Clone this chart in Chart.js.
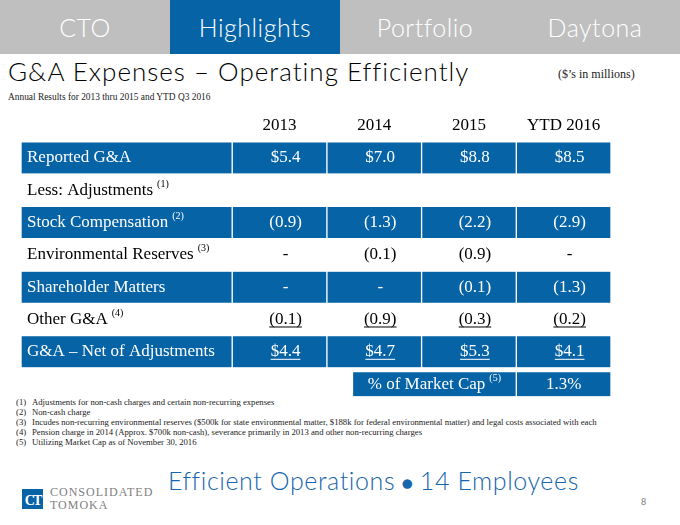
<!DOCTYPE html>
<html>
<head>
<meta charset="utf-8">
<script src="https://cdn.jsdelivr.net/npm/chart.js@4.4.1/dist/chart.umd.min.js"></script>
<style>
  body { margin: 0; background: #fff; }
  #page { position: relative; width: 680px; height: 525px; overflow: hidden; background: #fff; }
  .abs { position: absolute; white-space: nowrap; }
  #tabs { position: absolute; left: 0; top: 0; width: 680px; height: 54px; background: #bfbfbf; display: flex; }
  #tabs div { width: 171px; text-align: center; color: #fff; font: 300 25px Lato, sans-serif; line-height: 54px; letter-spacing: 0.5px; }
  #tabs div.on { background: #0563a6; }
  .serif { font-family: "Liberation Serif", serif; }
  #notes { position: absolute; left: 16px; top: 397px; font: 8.7px "Liberation Serif", serif; line-height: 10px; color: #222; }
  #notes span { display: inline-block; width: 16px; }
  #chart { position: absolute; left: 0; top: 0; }
</style>
</head>
<body>
<div id="page">
  <div id="tabs"><div>CTO</div><div class="on">Highlights</div><div>Portfolio</div><div>Daytona</div></div>
  <div class="abs" style="left:8px;top:55px;font:300 26px Lato,sans-serif;letter-spacing:1px;color:#000;">G&amp;A Expenses – Operating Efficiently</div>
  <div class="abs serif" style="left:558px;top:67px;font-size:12px;color:#222;">($’s in millions)</div>
  <div class="abs serif" style="left:8px;top:92px;font-size:9.4px;color:#222;">Annual Results for 2013 thru 2015 and YTD Q3 2016</div>
  <div id="notes">
    <div><span>(1)</span>Adjustments for non-cash charges and certain non-recurring expenses</div>
    <div><span>(2)</span>Non-cash charge</div>
    <div><span>(3)</span>Incudes non-recurring environmental reserves ($500k for state environmental matter, $188k for federal environmental matter) and legal costs associated with each</div>
    <div><span>(4)</span>Pension charge in 2014 (Approx. $700k non-cash), severance primarily in 2013 and other non-recurring charges</div>
    <div><span>(5)</span>Utilizing Market Cap as of November 30, 2016</div>
  </div>
  <div class="abs" style="left:168px;top:465px;font:300 25px Lato,sans-serif;letter-spacing:0.6px;color:#1766ad;">Efficient Operations<span style="font-size:20px;"> ● </span>14 Employees</div>
  <div class="abs" style="left:22px;top:489px;width:21px;height:20px;background:#0563a6;color:#fff;font:bold 14px 'Liberation Serif',serif;line-height:24px;text-align:center;letter-spacing:-2px;">CT</div>
  <div class="abs serif" style="left:50px;top:486px;font-size:12px;letter-spacing:1px;color:#808080;line-height:13px;">CONSOLIDATED<br>TOMOKA</div>
  <div class="abs" style="left:641px;top:496px;font:9px Lato,sans-serif;color:#808080;">8</div>
  <canvas id="chart" width="680" height="525"></canvas>
</div>
<script>
// column headers and row labels
const years = ['2013', '2014', '2015', 'YTD 2016']
const rowLabels = ['Reported G&A', 'Less: Adjustments', 'Stock Compensation', 'Environmental Reserves', 'Shareholder Matters', 'Other G&A', 'G&A – Net of Adjustments']
const rowNotes = ['', '(1)', '(2)', '(3)', '', '(4)', '']

// values in $ millions (null = "-")
const reportedGA = [5.4, 7.0, 8.8, 8.5]
const stockComp = [-0.9, -1.3, -2.2, -2.9]
const envReserves = [null, -0.1, -0.9, null]
const shareholderMatters = [null, null, -0.1, -1.3]
const otherGA = [-0.1, -0.9, -0.3, -0.2]
const netGA = [4.4, 4.7, 5.3, 4.1]
const marketCapLabel = '% of Market Cap'
const marketCapNote = '(5)'
const marketCapPct = 1.3

const BLUE = '#0563a6'
const LABEL_SPAN = 2.23   // width of the label column in column units
const CAP_START = 3.5

const rowValues = [reportedGA, null, stockComp, envReserves, shareholderMatters, otherGA, netGA]
const blueRows = [true, false, true, false, true, false, true]
const moneyRows = [true, false, false, false, false, false, true]
const underlined = [false, false, false, false, false, true, true]

// y categories: header row, table rows, market cap row
const yLabels = ['', ...rowLabels, marketCapLabel]

const colEdges = [0, LABEL_SPAN, LABEL_SPAN + 1, LABEL_SPAN + 2, LABEL_SPAN + 3, LABEL_SPAN + 4]
const cellSets = colEdges.slice(0, -1).map((start, k) => ({
  data: yLabels.map((lab, r) => (r > 0 && r <= rowLabels.length && blueRows[r - 1]) ? [start, colEdges[k + 1]] : null),
  backgroundColor: BLUE,
  borderColor: '#fff',
  borderWidth: { left: 1, right: 1, top: 0, bottom: 0 },
  borderSkipped: false,
  barThickness: 31,
  grouped: false
}))
const capSets = [[CAP_START, LABEL_SPAN + 3], [LABEL_SPAN + 3, LABEL_SPAN + 4]].map(span => ({
  data: yLabels.map((lab, r) => r === yLabels.length - 1 ? span : null),
  backgroundColor: BLUE,
  borderColor: '#fff',
  borderWidth: { left: 1, right: 1, top: 0, bottom: 0 },
  borderSkipped: false,
  barThickness: 24,
  grouped: false
}))

function fmt(v, money) {
  if (v === null) return '-'
  if (v < 0) return '(' + Math.abs(v).toFixed(1) + ')'
  return (money ? '$' : '') + v.toFixed(1)
}

const tableText = {
  id: 'tableText',
  afterDatasetsDraw(chart) {
    const { ctx, scales: { x, y } } = chart
    const colMid = i => x.getPixelForValue(LABEL_SPAN + i + 0.5)
    ctx.save()
    ctx.textBaseline = 'middle'
    ctx.font = '17px "Liberation Serif"'
    ctx.fillStyle = '#000'
    ctx.textAlign = 'center'
    years.forEach((yr, i) => ctx.fillText(yr, colMid(i), y.getPixelForValue(0)))

    rowLabels.forEach((label, r) => {
      const py = y.getPixelForValue(r + 1)
      const color = blueRows[r] ? '#fff' : '#000'
      ctx.fillStyle = color
      ctx.strokeStyle = color
      ctx.font = '17px "Liberation Serif"'
      ctx.textAlign = 'left'
      const lx = x.getPixelForValue(0) + 6
      ctx.fillText(label, lx, py)
      if (rowNotes[r]) {
        const w = ctx.measureText(label).width
        ctx.font = '10px "Liberation Serif"'
        ctx.fillText(rowNotes[r], lx + w + 4, py - 6)
      }
      const vals = rowValues[r]
      if (!vals) return
      ctx.font = '17px "Liberation Serif"'
      ctx.textAlign = 'center'
      vals.forEach((v, i) => {
        const s = fmt(v, moneyRows[r])
        const cx = colMid(i) + 6
        ctx.fillText(s, cx, py)
        if (underlined[r]) {
          const w = ctx.measureText(s).width
          ctx.lineWidth = 1
          ctx.beginPath()
          ctx.moveTo(cx - w / 2, py + 7.5)
          ctx.lineTo(cx + w / 2, py + 7.5)
          ctx.stroke()
        }
      })
    })

    // market cap row
    const my = y.getPixelForValue(yLabels.length - 1)
    ctx.fillStyle = '#fff'
    ctx.font = '17px "Liberation Serif"'
    const mid = (x.getPixelForValue(CAP_START) + x.getPixelForValue(LABEL_SPAN + 3)) / 2
    const w = ctx.measureText(marketCapLabel).width
    ctx.font = '10px "Liberation Serif"'
    const nw = ctx.measureText(marketCapNote).width
    const start = mid - (w + 4 + nw) / 2
    ctx.textAlign = 'left'
    ctx.font = '17px "Liberation Serif"'
    ctx.fillText(marketCapLabel, start, my)
    ctx.font = '10px "Liberation Serif"'
    ctx.fillText(marketCapNote, start + w + 4, my - 6)
    ctx.font = '17px "Liberation Serif"'
    ctx.textAlign = 'center'
    ctx.fillText(marketCapPct.toFixed(1) + '%', colMid(3), my)
    ctx.restore()
  }
}

new Chart(document.getElementById('chart'), {
  type: 'bar',
  data: { labels: yLabels, datasets: [...cellSets, ...capSets] },
  options: {
    indexAxis: 'y',
    responsive: false,
    animation: false,
    events: [],
    layout: { padding: { left: 21, right: 69, top: 109.4, bottom: 124.7 } },
    plugins: { legend: { display: false }, tooltip: { enabled: false } },
    scales: {
      x: { type: 'linear', min: 0, max: LABEL_SPAN + 4, display: false },
      y: { type: 'category', display: false, offset: true }
    }
  },
  plugins: [tableText]
})
</script>
</body>
</html>
